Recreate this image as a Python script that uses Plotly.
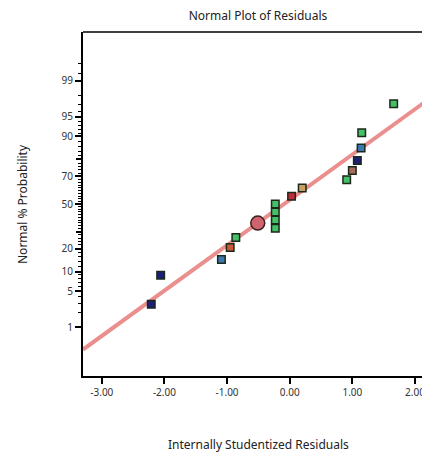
import plotly.graph_objects as go
from statistics import NormalDist

nd = NormalDist()

# Data
residuals = [-2.21, -2.06, -1.09, -0.95, -0.86, -0.23, -0.23, -0.23, -0.23,
             0.03, 0.20, 0.91, 1.00, 1.08, 1.14, 1.15, 1.66]
probability = [2.9, 8.9, 14.7, 20.6, 26.4, 50.0, 44.0, 38.2, 32.3,
               55.8, 61.8, 67.7, 73.6, 79.4, 85.5, 91.1, 97.1]
groups = ["navy", "navy", "blue", "orange", "green", "green", "green", "green", "green",
          "red", "tan", "green", "brown", "navy", "blue", "green", "green"]
highlight_residual = [-0.51]
highlight_probability = [35.9]

line_mean = -0.09
line_sd = 1.167

x_ticks = [-3.0, -2.0, -1.0, 0.0, 1.0, 2.0]
x_tick_labels = ["-3.00", "-2.00", "-1.00", "0.00", "1.00", "2.00"]
y_ticks = [1, 5, 10, 20, 50, 70, 90, 95, 99]
y_medium_ticks = [30, 80]
y_minor_ticks = ([p for p in range(2, 10)] + [p for p in range(12, 90, 2)] +
                 [p for p in range(91, 99)] + [99.3, 99.6])

group_colors = {
    "navy": "#1e1e7a",
    "blue": "#3b78b2",
    "orange": "#c85a38",
    "green": "#46c068",
    "red": "#c42838",
    "tan": "#c9a062",
    "brown": "#a86a5c",
}

def z(p):
    return nd.inv_cdf(p / 100.0)

x_range = [-3.30, 2.24]
y_range = [-3.25, 3.25]

W, H = 422, 450
ML, MT, MB = 75, 24, 82

fig = go.Figure()

# fitted line
lx = x_range
ly = [(v - line_mean) / line_sd for v in lx]
fig.add_trace(go.Scatter(x=lx, y=ly, mode="lines",
                         line=dict(color="rgba(232,122,122,0.85)", width=4),
                         hoverinfo="skip", showlegend=False))

fig.add_trace(go.Scatter(
    x=residuals, y=[z(p) for p in probability], mode="markers",
    marker=dict(symbol="square", size=7.5,
                color=[group_colors[g] for g in groups],
                line=dict(color="#1a2a1a", width=1.5)),
    showlegend=False))

fig.add_trace(go.Scatter(
    x=highlight_residual, y=[z(p) for p in highlight_probability], mode="markers",
    marker=dict(symbol="circle", size=14, color="#d0646e",
                line=dict(color="#3a2020", width=1.5)),
    showlegend=False))

# medium ticks on overlay axis
fig.add_trace(go.Scatter(x=[None], y=[None], yaxis="y2", showlegend=False))

font_family = "Noto Sans, Open Sans, sans-serif"
tickfont = dict(family=font_family, size=10, color="#333333")
labelfont = dict(family=font_family, size=12, color="#222222")

fig.update_layout(
    width=W, height=H,
    margin=dict(l=ML, r=0, t=MT, b=MB),
    paper_bgcolor="white", plot_bgcolor="white",
    title=dict(text="Normal Plot of Residuals", x=250 / W, xanchor="center",
               y=1 - 8 / H, yanchor="middle", font=labelfont),
    xaxis=dict(range=x_range, tickvals=x_ticks, ticktext=x_tick_labels,
               ticks="outside", ticklen=6, tickwidth=1.5, tickcolor="black",
               showline=True, linecolor="black", linewidth=2, showgrid=False,
               zeroline=False, tickfont=tickfont),
    yaxis=dict(range=y_range, tickvals=[z(p) for p in y_ticks],
               ticktext=[str(p) for p in y_ticks],
               ticks="outside", ticklen=6, tickwidth=1.5, tickcolor="black",
               showline=True, linecolor="black", linewidth=2, showgrid=False,
               zeroline=False, tickfont=tickfont,
               minor=dict(tickmode="array", tickvals=[z(p) for p in y_minor_ticks],
                          ticks="outside", ticklen=3, tickwidth=1, tickcolor="black",
                          showgrid=False)),
    yaxis2=dict(range=y_range, overlaying="y", side="left", anchor="x",
                tickvals=[z(p) for p in y_medium_ticks], showticklabels=False,
                ticks="outside", ticklen=6, tickwidth=1.5, tickcolor="black",
                showline=False, showgrid=False, zeroline=False),
    shapes=[dict(type="line", xref="paper", yref="paper", x0=0, x1=1, y0=1, y1=1,
                 line=dict(color="black", width=1.5))],
    annotations=[
        dict(text="Internally Studentized Residuals", xref="paper", yref="paper",
             x=(250 - ML) / (W - ML), y=-(437 - (H - MB)) / (H - MT - MB),
             xanchor="center", yanchor="middle", showarrow=False, font=labelfont),
        dict(text="Normal % Probability", xref="paper", yref="paper",
             x=-(ML - 14) / (W - ML), y=0.5, textangle=-90,
             xanchor="center", yanchor="middle", showarrow=False, font=labelfont),
    ],
)

fig.write_html("out.html")
